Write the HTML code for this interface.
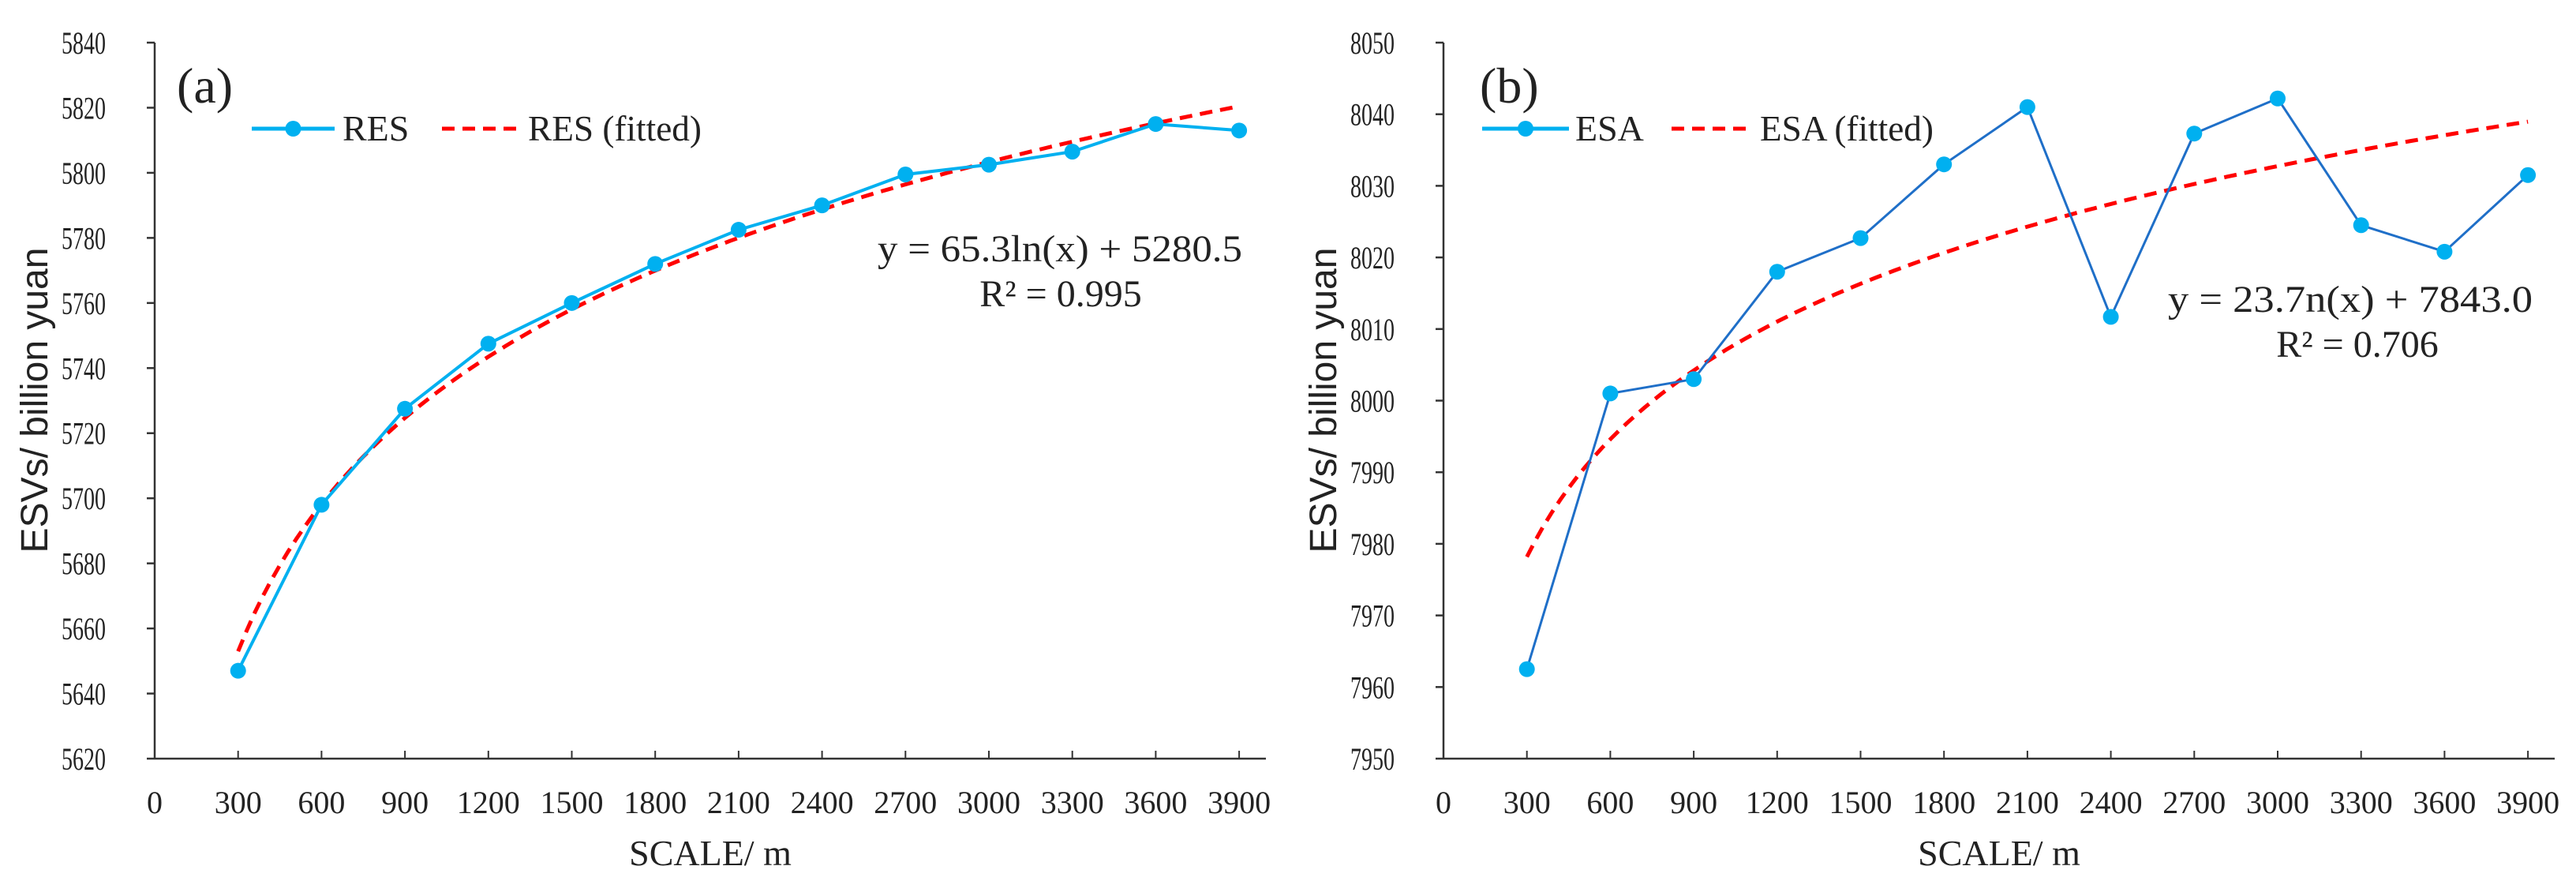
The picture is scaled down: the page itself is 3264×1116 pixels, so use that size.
<!DOCTYPE html>
<html><head><meta charset="utf-8"><style>
html,body{margin:0;padding:0;background:#fff;}
svg{display:block;}
text{font-family:"Liberation Serif",serif;fill:#222;}
</style></head><body>
<svg id="chart" width="3264" height="1116" viewBox="0 0 3264 1116" xmlns="http://www.w3.org/2000/svg"></svg>
<script>
const xCategories=[300,600,900,1200,1500,1800,2100,2400,2700,3000,3300,3600,3900];
const xTickLabels=[0,300,600,900,1200,1500,1800,2100,2400,2700,3000,3300,3600,3900];
const resValues=[5647,5698,5727.5,5747.5,5760,5772,5782.5,5790,5799.5,5802.5,5806.5,5815,5813];
const resFitCoef=[65.3,5280.5];
const resYTicks=[5620,5640,5660,5680,5700,5720,5740,5760,5780,5800,5820,5840];
const esaValues=[7962.5,8001,8003,8018,8022.7,8033,8041,8011.7,8037.3,8042.2,8024.5,8020.8,8031.5];
const esaFitCoef=[23.7,7843.0];
const esaYTicks=[7950,7960,7970,7980,7990,8000,8010,8020,8030,8040,8050];

const svg=document.getElementById('chart');
const NS='http://www.w3.org/2000/svg';
function mk(tag,attrs,parent){const e=document.createElementNS(NS,tag);for(const k in attrs)e.setAttribute(k,attrs[k]);(parent||svg).appendChild(e);return e;}

function panel(cfg){
  const g=mk('g',{});
  
  
  const x0=cfg.ox, pxPer=105.7/300, yTop=54, yBot=961;
  const xs=v=>x0+v*pxPer;
  const ymin=cfg.yt[0], ymax=cfg.yt[cfg.yt.length-1];
  const ys=v=>yBot-(v-ymin)/(ymax-ymin)*(yBot-yTop);
  const ya=mk('line',{x1:x0,y1:yTop,x2:x0,y2:yBot,stroke:'#333','stroke-width':2.5},g);
  
  
  const xa=mk('line',{x1:x0,y1:yBot,x2:x0+1408,y2:yBot,stroke:'#333','stroke-width':2.5},g);
  
  
  cfg.yt.forEach(t=>{
    const y=ys(t);
    mk('line',{x1:x0-10,y1:y,x2:x0,y2:y,stroke:'#333','stroke-width':2.5},g);
    const tx=mk('text',{x:x0-118,y:y+14,'font-size':40,textLength:56,lengthAdjust:'spacingAndGlyphs'},g);
    tx.textContent=t;
    
    
  });
  xTickLabels.forEach(t=>{
    const x=xs(t);
    if(t>0) mk('line',{x1:x,y1:yBot-10,x2:x,y2:yBot,stroke:'#333','stroke-width':2},g);
    const tx=mk('text',{x:x,y:1030,'text-anchor':'middle','font-size':40},g);
    tx.textContent=t;
    
    
  });
  const xt=mk('text',{x:x0+704,y:1096,'text-anchor':'middle','font-size':46},g);
  xt.textContent='SCALE/ m';
  
  
  const yt=mk('text',{x:0,y:0,'text-anchor':'middle','font-size':48,transform:`translate(${x0-136},507) rotate(-90)`,style:'font-family:"Liberation Sans",sans-serif'},g);
  yt.textContent='ESVs/ billion yuan';
  
  
  let d='';
  for(let v=300;v<=3900;v+=30){d+=(v===300?'M':'L')+xs(v).toFixed(1)+','+ys(cfg.fit[0]*Math.log(v)+cfg.fit[1]).toFixed(1);}
  const fp=mk('path',{d:d,fill:'none',stroke:'#ff0000','stroke-width':5,'stroke-dasharray':'16,10'},g);
  
  
  const pts=xCategories.map((c,i)=>xs(c).toFixed(1)+','+ys(cfg.vals[i]).toFixed(1)).join(' ');
  const pl=mk('polyline',{points:pts,fill:'none',stroke:cfg.lineColor,'stroke-width':cfg.lw},g);
  
  
  xCategories.forEach((c,i)=>{
    const m=mk('circle',{cx:xs(c),cy:ys(cfg.vals[i]),r:10,fill:'#00b0f0'},g);
    
    
  });
  const lb=mk('text',{x:cfg.lbX,y:130,'font-size':64},g);
  lb.textContent=cfg.label;
  
  
  const L=cfg.leg;
  mk('line',{x1:L[0],y1:163,x2:L[1],y2:163,stroke:'#00b0f0','stroke-width':5},g);
  mk('circle',{cx:(L[0]+L[1])/2,cy:163,r:10,fill:'#00b0f0'},g);
  const l1=mk('text',{x:L[2],y:178,'font-size':46},g);
  l1.textContent=cfg.series;
  
  
  mk('line',{x1:L[3],y1:163,x2:L[4],y2:163,stroke:'#ff0000','stroke-width':5,'stroke-dasharray':'16,10'},g);
  const l2=mk('text',{x:L[5],y:178,'font-size':46,textLength:220,lengthAdjust:'spacingAndGlyphs'},g);
  l2.textContent=cfg.series+' (fitted)';
  
  
  const e1=mk('text',{x:cfg.eq[0]-462,y:cfg.eq[1],'font-size':48,textLength:462,lengthAdjust:'spacingAndGlyphs'},g);
  e1.textContent=cfg.eqText;
  
  
  const e2=mk('text',{x:cfg.eq[2],y:cfg.eq[3],'text-anchor':'middle','font-size':48},g);
  e2.textContent=cfg.r2;
  
  
}
panel({name:'panel-a',ox:196,yt:resYTicks,vals:resValues,fit:resFitCoef,lineColor:'#00b0f0',lw:4,label:'(a)',lbX:224,series:'RES',
  leg:[319,424,434,560,654,669],eq:[1574,331,1344,388],eqText:'y = 65.3ln(x) + 5280.5',r2:'R² = 0.995'});
panel({name:'panel-b',ox:1829,yt:esaYTicks,vals:esaValues,fit:esaFitCoef,lineColor:'#1f6fc8',lw:3,label:'(b)',lbX:1875,series:'ESA',
  leg:[1878,1988,1996,2118,2212,2230],eq:[3209,395,2987,452],eqText:'y = 23.7n(x) + 7843.0',r2:'R² = 0.706'});
</script>
</body></html>
